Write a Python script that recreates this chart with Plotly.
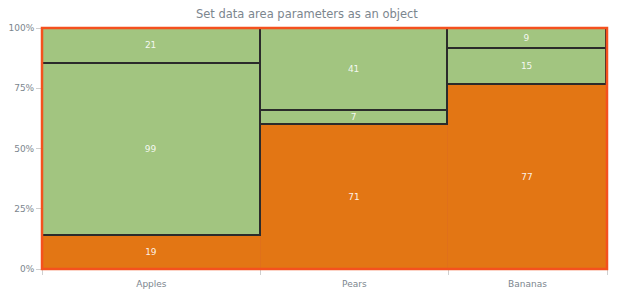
import plotly.graph_objects as go
import numpy as np

categories = ["Apples", "Pears", "Bananas"]
series1 = [19, 71, 77]
series2 = [99, 7, 15]
series3 = [21, 41, 9]
y_ticks = [0, 25, 50, 75, 100]
y_tick_labels = ["0%", "25%", "50%", "75%", "100%"]

totals = np.array(series1) + np.array(series2) + np.array(series3)
right = np.cumsum(totals)
left = right - totals
centers = (left + right) / 2

ORANGE = "#e37614"
GREEN = "#a2c580"
FONT = "DejaVu Sans"

fig = go.Figure()
for vals, color, line_color, lw in [
    (series1, ORANGE, "#e0701a", 1),
    (series2, GREEN, "#2b2b2b", 1.8),
    (series3, GREEN, "#2b2b2b", 1.8),
]:
    pct = [100 * v / t for v, t in zip(vals, totals)]
    fig.add_trace(go.Bar(
        x=centers, y=pct, width=totals,
        marker=dict(color=color, line=dict(color=line_color, width=lw)),
        text=[str(v) for v in vals], textposition="inside",
        insidetextanchor="middle", textangle=0,
        textfont=dict(color="rgba(255,255,255,0.9)", size=9, family=FONT),
        hoverinfo="skip", showlegend=False,
    ))

fig.add_shape(type="rect", xref="paper", yref="paper", x0=0, y0=0, x1=1, y1=1,
              line=dict(color="#f4511e", width=2.5), layer="above")

fig.update_layout(
    width=620, height=300,
    margin=dict(l=42, r=13, t=28, b=31),
    barmode="stack", bargap=0,
    paper_bgcolor="white", plot_bgcolor="white",
    title=dict(text="Set data area parameters as an object", x=0.495, xanchor="center",
               y=0.953, yanchor="middle",
               font=dict(family=FONT, size=11.5, color="#7c868e")),
    font=dict(family=FONT, size=9, color="#7c868e"),
    uniformtext=dict(mode="show", minsize=8),
)
fig.update_xaxes(range=[0, float(right[-1])], tickvals=list(centers), ticktext=categories,
                 ticks="", showgrid=False, zeroline=False, showline=False, automargin=False,
                 ticklabelstandoff=8,
                 tickfont=dict(size=9, color="#7c868e"),
                 minor=dict(tickvals=[0] + list(right), ticks="outside", ticklen=5,
                            tickcolor="#d0d0d0", showgrid=False))
fig.update_yaxes(range=[0, 100], tickvals=y_ticks, ticktext=y_tick_labels,
                 ticks="outside", ticklen=5, tickcolor="#d0d0d0", showgrid=False,
                 zeroline=False, showline=False, automargin=False,
                 tickfont=dict(size=9, color="#7c868e"))

fig.write_html("out.html")
